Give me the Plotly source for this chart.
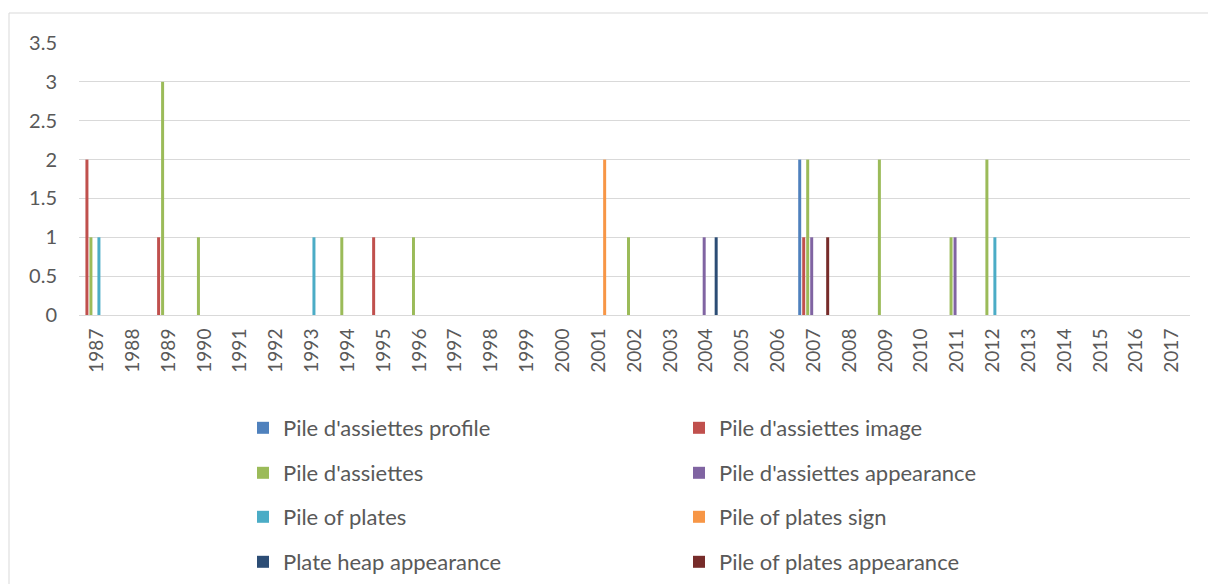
import plotly.graph_objects as go

# Years on the category axis
years = [str(y) for y in range(1987, 2018)]

# Counts per year for each search term (years not listed are zero)
profile_counts = {"2007": 2}
image_counts = {"1987": 2, "1989": 1, "1995": 1, "2007": 1}
assiettes_counts = {"1987": 1, "1989": 3, "1990": 1, "1994": 1, "1996": 1,
                    "2002": 1, "2007": 2, "2009": 2, "2011": 1, "2012": 2}
assiettes_appearance_counts = {"2004": 1, "2007": 1, "2011": 1}
plates_counts = {"1987": 1, "1993": 1, "2012": 1}
plates_sign_counts = {"2001": 2}
heap_appearance_counts = {"2004": 1}
plates_appearance_counts = {"2007": 1}

series_names = [
    "Pile d'assiettes profile",
    "Pile d'assiettes image",
    "Pile d'assiettes",
    "Pile d'assiettes appearance",
    "Pile of plates",
    "Pile of plates sign",
    "Plate heap appearance",
    "Pile of plates appearance",
]
series_counts = [
    profile_counts, image_counts, assiettes_counts, assiettes_appearance_counts,
    plates_counts, plates_sign_counts, heap_appearance_counts, plates_appearance_counts,
]
series_colors = ["#4F81BD", "#C0504D", "#9BBB59", "#8064A2",
                 "#4BACC6", "#F79646", "#2C4D75", "#772C2A"]

FONT = "Lato"
TEXT = "#595959"
GRID = "#D9D9D9"

# Plot area geometry in pixels
W, H = 1208, 584
ML, MR, MT, MB = 79, 18, 43, 269
PW, PH = W - ML - MR, H - MT - MB


def px_to_paper_x(px):
    return (px - ML) / PW


def px_to_paper_y(py):
    return (H - MB - py) / PH


fig = go.Figure()

# Two-column legend: each entry gets its own legend box, placed on the page
legend_cols = [243, 679]
legend_rows = [428, 473, 517, 562]

for i, (name, counts, color) in enumerate(zip(series_names, series_counts, series_colors)):
    legend_id = "legend" if i == 0 else f"legend{i + 1}"
    fig.add_trace(go.Bar(
        x=years,
        y=[counts.get(y, 0) for y in years],
        name=name,
        marker=dict(color=color, line=dict(width=0)),
        legend=legend_id,
    ))
    col, row = i % 2, i // 2
    fig.update_layout({legend_id: dict(
        xref="container", yref="container",
        x=legend_cols[col] / W,
        y=1 - legend_rows[row] / H,
        xanchor="left", yanchor="middle",
        orientation="h",
        font=dict(family=FONT, size=22, color=TEXT),
        bgcolor="rgba(0,0,0,0)",
        borderwidth=0,
    )})

fig.update_layout(
    width=W, height=H,
    margin=dict(l=ML, r=MR, t=MT, b=MB, autoexpand=False),
    paper_bgcolor="white",
    plot_bgcolor="white",
    barmode="group",
    bargap=0.108,
    bargroupgap=0.25,
    showlegend=True,
    font=dict(family=FONT, color=TEXT),
    xaxis=dict(
        type="category",
        categoryorder="array",
        categoryarray=years,
        tickangle=-90,
        tickfont=dict(family=FONT, size=19, color=TEXT),
        showgrid=False,
        showline=True,
        linecolor=GRID,
        linewidth=1,
        ticks="outside",
        ticklen=5,
        tickcolor="rgba(0,0,0,0)",
        automargin=False,
    ),
    yaxis=dict(
        range=[0, 3.5],
        dtick=0.5,
        tick0=0,
        tickfont=dict(family=FONT, size=20, color=TEXT),
        showgrid=True,
        gridcolor=GRID,
        gridwidth=1,
        zeroline=False,
        showline=False,
        ticks="outside",
        ticklen=17,
        tickcolor="rgba(0,0,0,0)",
        automargin=False,
    ),
    shapes=[dict(
        type="rect", xref="paper", yref="paper",
        x0=px_to_paper_x(9), x1=px_to_paper_x(W + 20),
        y0=px_to_paper_y(H + 20), y1=px_to_paper_y(13),
        line=dict(color=GRID, width=1),
        fillcolor="rgba(0,0,0,0)",
        layer="below",
    )],
)

fig.write_html("out.html")
